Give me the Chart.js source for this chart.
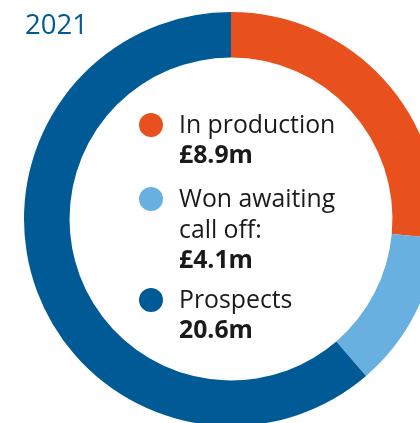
<!DOCTYPE html>
<html>
<head>
<meta charset="utf-8">
<script src="https://cdn.jsdelivr.net/npm/chart.js@4.4.1/dist/chart.umd.min.js"></script>
<style>
  html, body { margin: 0; padding: 0; background: #fff; }
  #wrap { position: relative; width: 420px; height: 423px; overflow: hidden; }
  #pipeline { position: absolute; left: 11px; top: -1px; }
  #year {
    position: absolute; left: 25px; top: 5px;
    font-family: "Open Sans", sans-serif; font-size: 27.5px;
    color: #005a96;
  }
</style>
</head>
<body>
<div id="wrap">
  <canvas id="pipeline" width="440" height="440"></canvas>
  <div id="year">2021</div>
</div>
<script>
const labels = ['In production', 'Won awaiting call off:', 'Prospects'];
const values = [8.9, 4.1, 20.6];
const valueText = ['£8.9m', '£4.1m', '20.6m'];
const colours = ['#e8511e', '#67b0e0', '#005a96'];

// legend drawn in the hole of the ring
const centreLegend = {
  id: 'centreLegend',
  afterDraw(chart) {
    const c = chart.ctx;
    const lines = [
      ['In production'],
      ['Won awaiting', 'call off:'],
      ['Prospects']
    ];
    const tops = [125, 199, 300];
    c.save();
    c.textBaseline = 'alphabetic';
    lines.forEach((rows, i) => {
      const y = tops[i] + 1;
      c.fillStyle = colours[i];
      c.beginPath();
      c.arc(140, y, 12, 0, Math.PI * 2);
      c.fill();
      c.fillStyle = '#1a1a1a';
      c.font = '24.8px "Open Sans", sans-serif';
      rows.forEach((r, j) => c.fillText(r, 168, y + 8 + j * 31));
      c.font = 'bold 24.8px "Open Sans", sans-serif';
      c.fillText(valueText[i], 168, y + 8 + rows.length * 31 - 1);
    });
    c.restore();
  }
};

new Chart(document.getElementById('pipeline'), {
  type: 'doughnut',
  data: {
    labels: labels,
    datasets: [{
      data: values,
      backgroundColor: colours,
      borderWidth: 0,
      hoverOffset: 0
    }]
  },
  options: {
    responsive: false,
    animation: false,
    cutout: '78%',
    layout: { padding: 13 },
    plugins: {
      legend: { display: false },
      tooltip: { enabled: false }
    }
  },
  plugins: [centreLegend]
});
</script>
</body>
</html>
